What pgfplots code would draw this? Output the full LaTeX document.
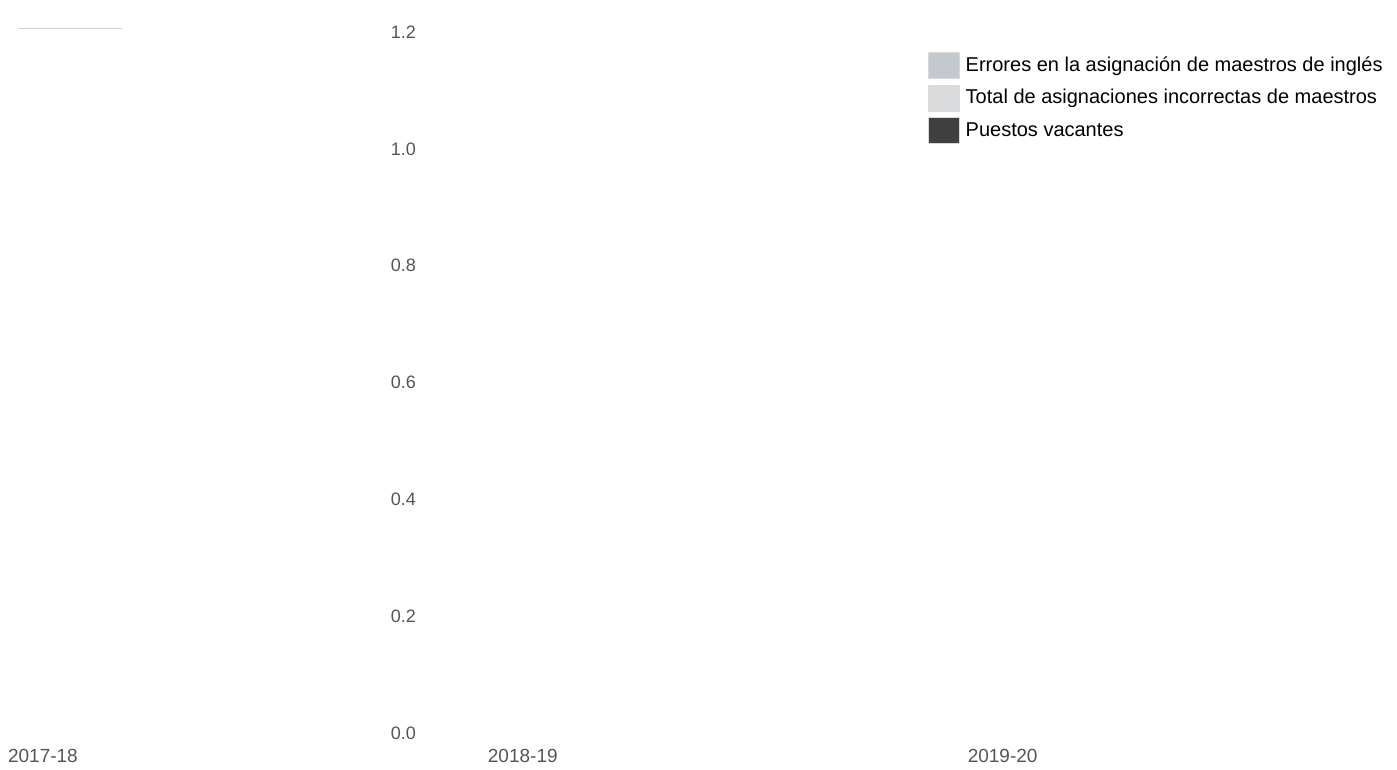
\documentclass[border=0pt]{standalone}
\usepackage{pgfplots}
\pgfplotsset{compat=1.18}
\usepackage{fontspec}
\setmainfont{Liberation Sans}

\definecolor{errores}{HTML}{C4C9CF}
\definecolor{total}{HTML}{DADBDC}
\definecolor{vacantes}{HTML}{404040}
\definecolor{ticktext}{HTML}{555555}

% bars are all zero high, so the swatch carries its own colour
\pgfplotsset{
  swatch/.style={legend image code/.code={%
    \draw[fill=#1, draw=black!15] (0pt,-6.5pt) rectangle (15.5pt,6.5pt);}},
}

\begin{document}
\begin{tikzpicture}
\useasboundingbox (0,0) rectangle (698.5pt,385pt);
% faint remnant at the top left
\draw[gray!35, line width=0.4pt] (9pt,371pt) -- (61pt,371pt);
\begin{axis}[
  at={(4pt,18.5pt)}, anchor=south west,
  scale only axis,
  width=691pt, height=350.5pt,
  xmin=0, xmax=2.88, ymin=0, ymax=1.2,
  axis line style={draw=none},
  major tick length=0pt,
  xtick={0,1,2},
  xticklabels={2017-18,2018-19,2019-20},
  xticklabel style={anchor=west, xshift=-3.5pt, yshift=-11.5pt,
    font=\fontsize{9.5}{11}\selectfont},
  ytick={0,0.2,0.4,0.6,0.8,1.0,1.2},
  yticklabel style={anchor=east, xshift=207.5pt,
    /pgf/number format/.cd, fixed, fixed zerofill, precision=1,
    assume math mode=true},
  ticklabel style={font=\fontsize{9}{11}\selectfont, text=ticktext},
  ybar, bar width=40pt,
  legend style={
    at={(rel axis cs:0.661,0.978)}, anchor=north west,
    draw=none, fill=none,
    font=\fontsize{10}{12}\selectfont,
    row sep=3pt,
    nodes={inner sep=1.5pt},
    /tikz/every odd column/.append style={column sep=1.5pt},
  },
  legend cell align=left,
]
\addplot[swatch=errores, fill=none, draw=none] coordinates {(0,0) (1,0) (2,0)};
\addplot[swatch=total, fill=none, draw=none] coordinates {(0,0) (1,0) (2,0)};
\addplot[swatch=vacantes, fill=none, draw=none] coordinates {(0,0) (1,0) (2,0)};
\legend{Errores en la asignación de maestros de inglés,
        Total de asignaciones incorrectas de maestros,
        Puestos vacantes}
\end{axis}
\end{tikzpicture}
\end{document}
